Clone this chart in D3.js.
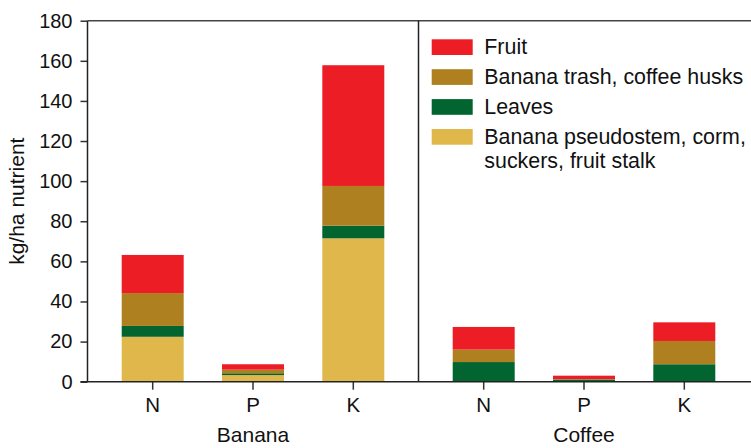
<!DOCTYPE html>
<html lang="en">
<head>
<meta charset="UTF-8">
<title>Nutrient removal</title>
<script src="https://d3js.org/d3.v7.min.js"></script>
<style>
  body { margin: 0; background: #fff; }
  svg text { font-family: "Liberation Sans", Arial, Helvetica, sans-serif; fill: #111; }
</style>
</head>
<body>
<div id="chart"></div>
<script>
// data (kg/ha)
const nutrients = ["N", "P", "K"];
const crops = ["Banana", "Coffee"];
const parts = ["pseudostem", "leaves", "trash", "fruit"]; // bottom to top
const partLabels = {
  fruit: ["Fruit"],
  trash: ["Banana trash, coffee husks"],
  leaves: ["Leaves"],
  pseudostem: ["Banana pseudostem, corm,", "suckers, fruit stalk"]
};
const pseudostem = { Banana: [22.4, 3.3, 71.5], Coffee: [0, 0, 0] };
const leaves     = { Banana: [5.4, 0.9, 6.3],   Coffee: [9.8, 1.1, 8.7] };
const trash      = { Banana: [16.4, 1.8, 19.8], Coffee: [6.2, 0.2, 11.6] };
const fruit      = { Banana: [19.0, 2.7, 60.2], Coffee: [11.3, 1.7, 9.3] };
const yTicks = [0, 20, 40, 60, 80, 100, 120, 140, 160, 180];

const color = d3.scaleOrdinal()
  .domain(parts)
  .range(["#E0B74B", "#02652F", "#AF801F", "#ED1D25"]);

const W = 751, H = 448;
const plotL = 87.5, plotMid = 418.5, plotR = 749.5, plotT = 20.7, plotB = 381.7;

const svg = d3.select("#chart").append("svg")
  .attr("width", W).attr("height", H);

const y = d3.scaleLinear().domain([0, 180]).range([plotB, plotT]);

const byPart = { pseudostem, leaves, trash, fruit };

crops.forEach((crop, ci) => {
  const x = d3.scaleBand()
    .domain(nutrients)
    .range(ci === 0 ? [plotL, plotMid] : [plotMid, plotR])
    .paddingInner(0.382)
    .paddingOuter(0.341);

  const rows = nutrients.map((n, i) => {
    const r = { nutrient: n };
    parts.forEach(p => { r[p] = byPart[p][crop][i]; });
    return r;
  });
  const series = d3.stack().keys(parts)(rows);

  svg.append("g").selectAll("g")
    .data(series)
    .join("g")
      .attr("fill", d => color(d.key))
    .selectAll("rect")
    .data(d => d)
    .join("rect")
      .attr("x", d => x(d.data.nutrient))
      .attr("width", x.bandwidth())
      .attr("y", d => y(d[1]))
      .attr("height", d => y(d[0]) - y(d[1]));

  // x axis ticks and labels
  const xg = svg.append("g").attr("transform", `translate(0,${plotB})`)
    .call(d3.axisBottom(x).tickSize(8).tickPadding(8));
  xg.select(".domain").remove();
  xg.selectAll(".tick line").attr("stroke", "#333").attr("stroke-width", 1.5);
  xg.selectAll(".tick text").style("font-size", "20.5px").attr("fill", "#111");

  // crop label sits at the very bottom edge
  svg.append("text")
    .attr("x", x("P") + x.bandwidth() / 2)
    .attr("y", 442)
    .attr("text-anchor", "middle")
    .style("font-size", "21px")
    .text(crop);
});

// y axis
const yg = svg.append("g").attr("transform", `translate(${plotL},0)`)
  .call(d3.axisLeft(y).tickValues(yTicks).tickSize(7).tickPadding(8));
yg.select(".domain").remove();
yg.selectAll(".tick line").attr("stroke", "#333").attr("stroke-width", 1.5);
yg.selectAll(".tick text").style("font-size", "20px").attr("fill", "#111");

// frame lines
svg.append("line").attr("x1", plotL).attr("x2", W).attr("y1", plotT).attr("y2", plotT)
  .attr("stroke", "#444").attr("stroke-width", 1.5);
svg.append("line").attr("x1", plotL).attr("x2", plotL).attr("y1", plotT).attr("y2", plotB)
  .attr("stroke", "#222").attr("stroke-width", 1.5);
svg.append("line").attr("x1", plotMid).attr("x2", plotMid).attr("y1", plotT).attr("y2", plotB)
  .attr("stroke", "#222").attr("stroke-width", 1.5);
svg.append("line").attr("x1", plotL - 7).attr("x2", W).attr("y1", plotB).attr("y2", plotB)
  .attr("stroke", "#222").attr("stroke-width", 1.5);

// y axis title
svg.append("text")
  .attr("transform", `translate(24,${(plotT + plotB) / 2}) rotate(-90)`)
  .attr("text-anchor", "middle")
  .style("font-size", "21px")
  .text("kg/ha nutrient");

// legend (top to bottom: fruit first)
const legendOrder = parts.slice().reverse();
const lg = svg.append("g").attr("transform", "translate(431.7,39.3)");
legendOrder.forEach((p, i) => {
  const g = lg.append("g").attr("transform", `translate(0,${i * 29.9})`);
  g.append("rect").attr("width", 41).attr("height", 15.7).attr("fill", color(p));
  partLabels[p].forEach((line, j) => {
    g.append("text")
      .attr("x", 52.6)
      .attr("y", 15 + j * 24)
      .style("font-size", "21.4px")
      .text(line);
  });
});
</script>
</body>
</html>
